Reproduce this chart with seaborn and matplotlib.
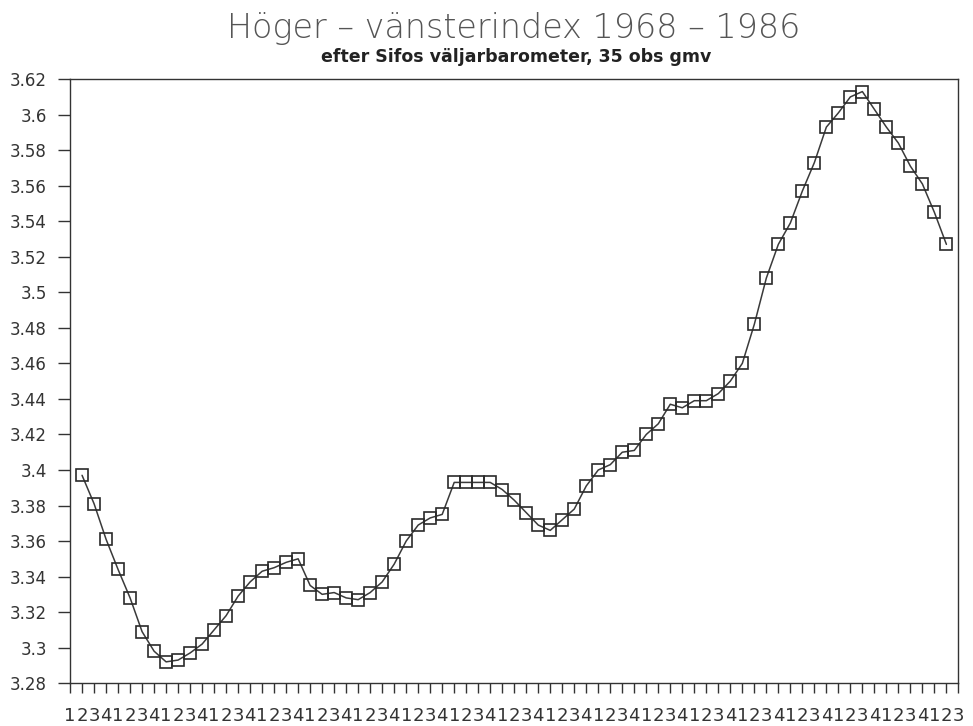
import numpy as np
import pandas as pd
import seaborn as sns
import matplotlib.pyplot as plt
from matplotlib.ticker import FixedLocator, FuncFormatter

# Höger-vänsterindex, kvartal 1968 Q2 - 1986 Q2 (35 obs glidande medelvärde)
quarter_pos = list(range(1, 74))
index_values = [
    3.397, 3.381, 3.361, 3.344, 3.328, 3.309, 3.298, 3.292, 3.293, 3.297,
    3.302, 3.310, 3.318, 3.329, 3.337, 3.343, 3.345, 3.348, 3.350, 3.335,
    3.330, 3.331, 3.328, 3.327, 3.331, 3.337, 3.347, 3.360, 3.369, 3.373,
    3.375, 3.393, 3.393, 3.393, 3.393, 3.389, 3.383, 3.376, 3.369, 3.366,
    3.372, 3.378, 3.391, 3.400, 3.403, 3.410, 3.411, 3.420, 3.426, 3.437,
    3.435, 3.439, 3.439, 3.443, 3.450, 3.460, 3.482, 3.508, 3.527, 3.539,
    3.557, 3.573, 3.593, 3.601, 3.610, 3.613, 3.603, 3.593, 3.584, 3.571,
    3.561, 3.545, 3.527,
]
# x-axeln: kvartalsnummer 1968 Q1 .. 1986 Q3
tick_labels = ["1", "2", "3", "4"] * 18 + ["1", "2", "3"]
y_ticks = [round(3.28 + 0.02 * k, 2) for k in range(18)]

title = "Höger – vänsterindex 1968 – 1986"
subtitle = "efter Sifos väljarbarometer, 35 obs gmv"

df = pd.DataFrame({"pos": quarter_pos, "index": index_values})

sns.set_style("ticks")
plt.rcParams["font.family"] = ["DejaVu Sans"]

fig = plt.figure(figsize=(9.73, 7.26), dpi=100)
ax = fig.add_axes([0.072, 0.059, 0.913, 0.832])

sns.lineplot(data=df, x="pos", y="index", ax=ax, color="#3a3a3a", linewidth=1.1,
             marker="s", markersize=8.5, markerfacecolor="none",
             markeredgecolor="#2a2a2a", markeredgewidth=1.2)

ax.set_xlim(0, 74)
ax.set_ylim(3.28, 3.62)
ax.xaxis.set_major_locator(FixedLocator(range(len(tick_labels))))
ax.set_xticklabels(tick_labels)
ax.yaxis.set_major_locator(FixedLocator(y_ticks))
ax.yaxis.set_major_formatter(FuncFormatter(lambda v, p: f"{round(v, 2):g}"))

ax.tick_params(axis="x", direction="out", length=7, width=1, pad=10,
               labelsize=13, colors="#333333")
ax.tick_params(axis="y", direction="out", length=8.6, width=1, pad=8,
               labelsize=12, colors="#333333")
for side in ["left", "right", "top", "bottom"]:
    ax.spines[side].set_visible(True)
    ax.spines[side].set_color("#333333")
    ax.spines[side].set_linewidth(1.0)

ax.set_xlabel("")
ax.set_ylabel("")

fig.text(0.528, 0.961, title, ha="center", va="center", fontsize=24,
         color="#555555", fontweight="light")
fig.text(0.530, 0.921, subtitle, ha="center", va="center", fontsize=12.5,
         color="#222222", fontweight="bold")

fig.savefig("out.png", dpi=100)
